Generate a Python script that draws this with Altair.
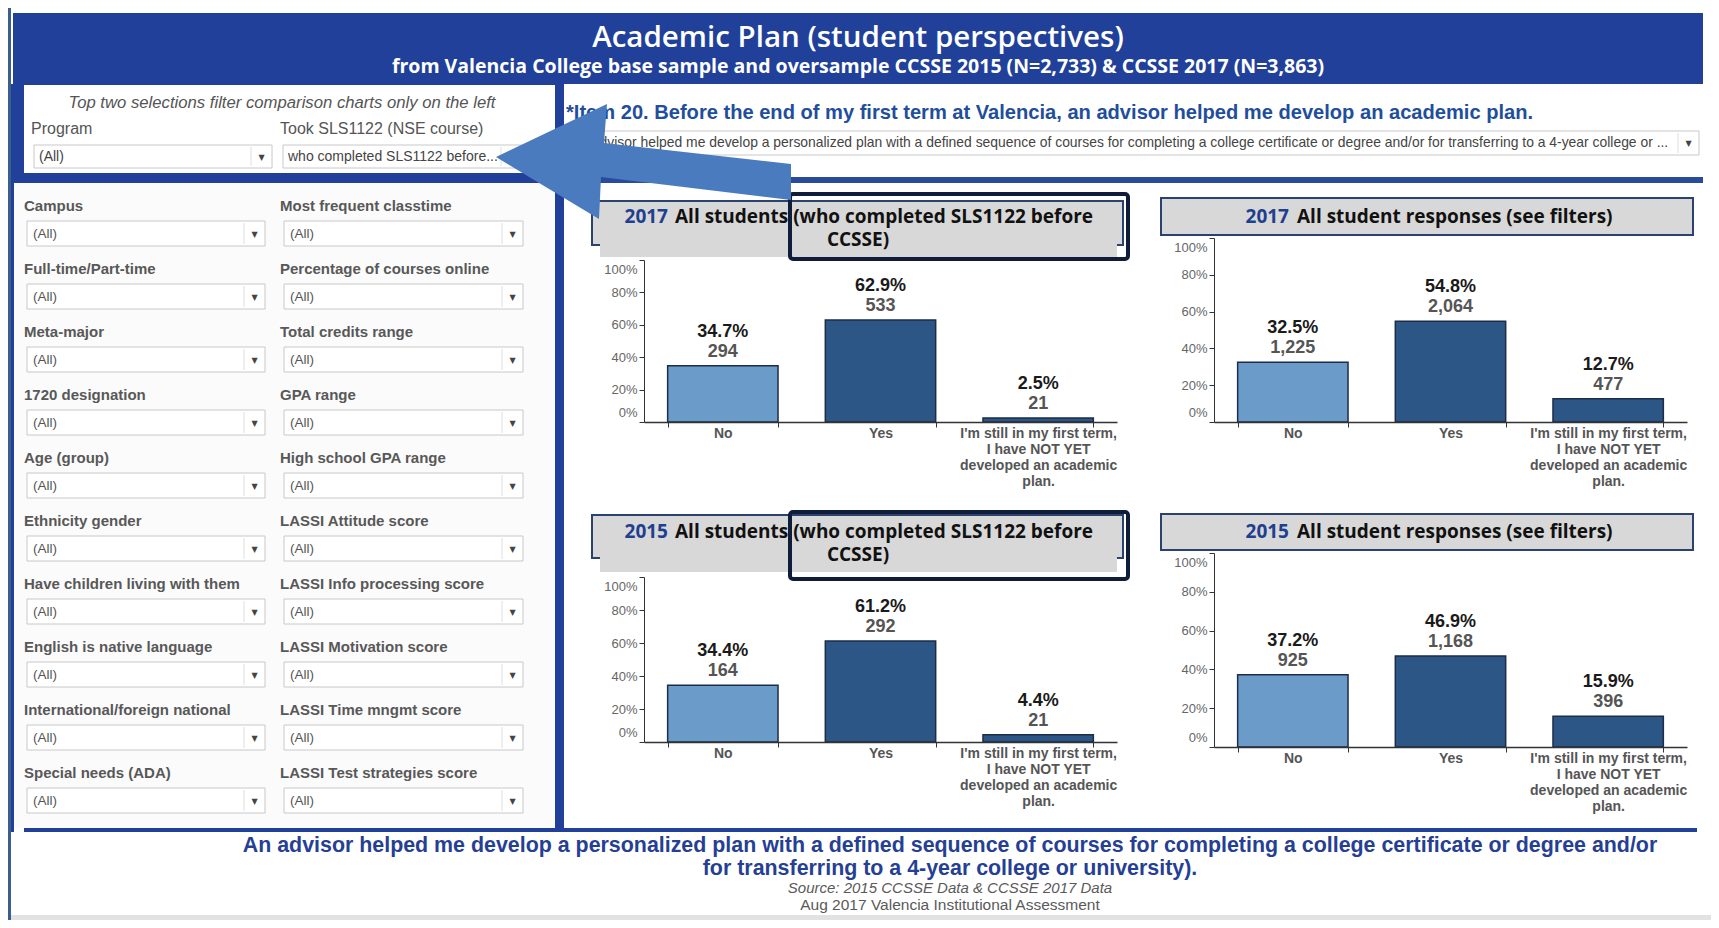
import altair as alt
import pandas as pd

# ---------------- chart values ----------------
categories = ["No", "Yes",
              "I'm still in my first term,\nI have NOT YET\ndeveloped an academic\nplan."]
bar_colors = ["#6a9bc9", "#2c5686", "#2c5686"]

pct_2017_sls = [0.347, 0.629, 0.025]
n_2017_sls = [294, 533, 21]
pct_2017_all = [0.325, 0.548, 0.127]
n_2017_all = [1225, 2064, 477]
pct_2015_sls = [0.344, 0.612, 0.044]
n_2015_sls = [164, 292, 21]
pct_2015_all = [0.372, 0.469, 0.159]
n_2015_all = [925, 1168, 396]

y_ticks = [0, 0.2, 0.4, 0.6, 0.8, 1.0]

filters_left = ["Campus", "Full-time/Part-time", "Meta-major", "1720 designation",
                "Age (group)", "Ethnicity gender", "Have children living with them",
                "English is native language", "International/foreign national",
                "Special needs (ADA)"]
filters_right = ["Most frequent classtime", "Percentage of courses online",
                 "Total credits range", "GPA range", "High school GPA range",
                 "LASSI Attitude score", "LASSI Info processing score",
                 "LASSI Motivation score", "LASSI Time mngmt score",
                 "LASSI Test strategies score"]

title_main = "Academic Plan (student perspectives)"
title_sub = ("from Valencia College base sample and oversample CCSSE 2015 (N=2,733) "
             "& CCSSE 2017 (N=3,863)")
note_text = "Top two selections filter comparison charts only on the left"
item_text = ("*Item 20. Before the end of my first term at Valencia, an advisor helped "
             "me develop an academic plan.")
item_choice = ("An advisor helped me develop a personalized plan with a defined sequence of "
               "courses for completing a college certificate or degree and/or for "
               "transferring to a 4-year college or ...")
footer_1 = ("An advisor helped me develop a personalized plan with a defined sequence of "
            "courses for completing a college certificate or degree and/or")
footer_2 = "for transferring to a 4-year college or university)."
footer_src = "Source: 2015 CCSSE Data & CCSSE 2017 Data"
footer_org = "Aug 2017 Valencia Institutional Assessment"

# ---------------- layout helpers (page pixel coordinates) ----------------
W, H, M = 1703, 912, 8
SANS = "Liberation Sans"
TITLE_FONT = "Open Sans"
BLUE = "#21409a"


def sx():
    return alt.Scale(domain=[M, M + W], range=[0, W], nice=False, zero=False)


def sy():
    return alt.Scale(domain=[M, M + H], range=[0, H], nice=False, zero=False)


def rect_layer(rows, **kw):
    df = pd.DataFrame(rows, columns=["x", "x2", "y", "y2", "c"])
    return alt.Chart(df).mark_rect(**kw).encode(
        x=alt.X("x:Q", scale=sx(), axis=None), x2="x2:Q",
        y=alt.Y("y:Q", scale=sy(), axis=None), y2="y2:Q",
        fill=alt.Fill("c:N", scale=None))


def frame_layer(rows, **kw):
    df = pd.DataFrame(rows, columns=["x", "x2", "y", "y2"])
    return alt.Chart(df).mark_rect(**kw).encode(
        x=alt.X("x:Q", scale=sx(), axis=None), x2="x2:Q",
        y=alt.Y("y:Q", scale=sy(), axis=None), y2="y2:Q")


def text_layer(rows, **kw):
    df = pd.DataFrame(rows, columns=["x", "y", "t"])
    return alt.Chart(df).mark_text(**kw).encode(
        x=alt.X("x:Q", scale=sx(), axis=None),
        y=alt.Y("y:Q", scale=sy(), axis=None),
        text="t:N")


def vrule_layer(rows, **kw):
    df = pd.DataFrame(rows, columns=["x", "y", "y2"])
    return alt.Chart(df).mark_rule(**kw).encode(
        x=alt.X("x:Q", scale=sx(), axis=None),
        y=alt.Y("y:Q", scale=sy(), axis=None), y2="y2:Q")


layers = []

# background / frame
layers.append(rect_layer([
    (0, 1719, 0, 928, "#3b5e8c"),
    (11, 1712, 3, 922, "#ffffff"),
    (11, 1712, 915, 922, "#e2e2e2"),
    (13, 1703, 13, 84, BLUE),
    (11, 564, 84, 183, BLUE),
    (11, 14, 183, 832, BLUE),
    (24, 555, 85, 173, "#ffffff"),
    (14, 555, 183, 828, "#fbfbfb"),
    (555, 564, 84, 832, BLUE),
    (564, 1703, 177, 183, "#2a4b9c"),
    (24, 1697, 828, 832, BLUE),
]))

# dropdown boxes
dd_small = []   # (x1, x2, y1, y2, text)
for i in range(len(filters_left)):
    y1 = 221 + 63 * i
    dd_small.append((27, 265, y1, y1 + 25, "(All)"))
    dd_small.append((284, 523, y1, y1 + 25, "(All)"))
dd_top = [(34, 272, 145, 168, "(All)"),
          (283, 522, 145, 168, "who completed SLS1122 before...")]
dd_item = [(566, 1699, 131, 155, item_choice)]
all_dd = dd_small + dd_top + dd_item

layers.append(frame_layer([(a, b, c, d) for a, b, c, d, _ in all_dd],
                          fill="#ffffff", stroke="#c8c8c8", strokeWidth=1))
layers.append(vrule_layer([(b - 21, c + 2, d - 2) for a, b, c, d, _ in all_dd],
                          color="#dedede", strokeWidth=1))
layers.append(text_layer([(b - 10.5, (c + d) / 2 + 1, "\u25bc") for a, b, c, d, _ in all_dd],
                         font="DejaVu Sans", fontSize=8, color="#444444"))
layers.append(text_layer([(a + 6, (c + d) / 2, t) for a, b, c, d, t in dd_small],
                         align="left", font=SANS, fontSize=13.5, color="#555555"))
layers.append(text_layer([(a + 5, (c + d) / 2, t) for a, b, c, d, t in dd_top],
                         align="left", font=SANS, fontSize=14, color="#444444"))
layers.append(text_layer([(a + 5, (c + d) / 2, t) for a, b, c, d, t in dd_item],
                         align="left", font=SANS, fontSize=13.9, color="#444444", limit=1108))

# filter labels
lab_rows = []
for i, (l, r) in enumerate(zip(filters_left, filters_right)):
    lab_rows.append((24, 206 + 63 * i, l))
    lab_rows.append((280, 206 + 63 * i, r))
layers.append(text_layer(lab_rows, align="left", font=SANS, fontSize=15,
                         fontWeight="bold", color="#585858"))
layers.append(text_layer([(31, 129, "Program"), (280, 129, "Took SLS1122 (NSE course)")],
                         align="left", font=SANS, fontSize=16, color="#555555"))
layers.append(text_layer([(282, 103, note_text)], font=SANS, fontSize=16.7,
                         fontStyle="italic", color="#555555"))
layers.append(text_layer([(566, 113, item_text)], align="left", font=SANS, fontSize=20.1,
                         fontWeight="bold", color="#1f4e9c"))

# header
layers.append(text_layer([(858, 38, title_main)], font=TITLE_FONT, fontSize=29.5,
                         fontWeight=600, color="#ffffff"))
layers.append(text_layer([(858, 67, title_sub)], font=TITLE_FONT, fontSize=19.5,
                         fontWeight="bold", color="#ffffff"))

# chart title boxes
layers.append(frame_layer([(592, 1123, 201, 245), (592, 1123, 515, 558),
                           (1161, 1693, 198, 235), (1161, 1693, 514, 550)],
                          fill="#d8d8d8", stroke="#2b4170", strokeWidth=2))
layers.append(frame_layer([(600, 1117, 203, 257), (600, 1117, 517, 572)],
                          fill="#d8d8d8"))

title_kw = dict(font=TITLE_FONT, fontSize=19, fontWeight="bold")
layers.append(text_layer([
    (675, 217, "All students (who completed SLS1122 before"),
    (675, 532, "All students (who completed SLS1122 before"),
    (1297, 217, "All student responses (see filters)"),
    (1297, 532, "All student responses (see filters)"),
], align="left", color="#111111", **title_kw))
layers.append(text_layer([(668, 217, "2017"), (668, 532, "2015"),
                          (1289, 217, "2017"), (1289, 532, "2015")],
                         align="right", color="#1f3f8f", **title_kw))
layers.append(text_layer([(858, 240, "CCSSE)"), (858, 555, "CCSSE)")],
                         color="#111111", **title_kw))


# ---------------- bar panels ----------------
def panel(pcts, counts, x0, x1, y0, y1):
    df = pd.DataFrame({"cat": categories, "pct": pcts, "n": counts})
    xsc = alt.Scale(domain=categories, range=[x0 - M, x1 - M],
                    paddingInner=0.3, paddingOuter=0.15)
    ysc = alt.Scale(domain=[0, 1], range=[y0 - M, y1 - M], nice=False, zero=True)
    xax = alt.Axis(orient="bottom", offset=(y0 - M) - H, title=None, labelAngle=0,
                   labelExpr="split(datum.label, '\\n')", labelFont=SANS,
                   labelFontSize=14, labelFontWeight="bold", labelColor="#555555",
                   labelLineHeight=16, labelOverlap=False, labelLimit=400,
                   tickBand="extent", tickSize=5, tickColor="#333333",
                   domainColor="#333333", domainWidth=1.5, labelPadding=-1,
                   grid=False, zindex=1)
    yax = alt.Axis(orient="left", offset=-(x0 - M), title=None, values=y_ticks,
                   format=".0%", labelFlush=True, labelFlushOffset=-3, labelFont=SANS,
                   labelFontSize=13, labelColor="#666666", tickSize=5,
                   tickColor="#333333", domainColor="#333333", labelPadding=2,
                   grid=False, zindex=1)
    bars = alt.Chart(df).mark_bar(stroke="#1d2c47", strokeWidth=1.5).encode(
        x=alt.X("cat:N", scale=xsc, axis=xax, sort=categories),
        y=alt.Y("pct:Q", scale=ysc, axis=yax),
        color=alt.Color("cat:N", scale=alt.Scale(domain=categories, range=bar_colors),
                        legend=None))
    pct_lbl = alt.Chart(df).mark_text(dy=-34, font=SANS, fontSize=18, fontWeight="bold",
                                      color="#1a1a1a").encode(
        x=alt.X("cat:N", scale=xsc, axis=None, sort=categories),
        y=alt.Y("pct:Q", scale=ysc, axis=None),
        text=alt.Text("pct:Q", format=".1%"))
    n_lbl = alt.Chart(df).mark_text(dy=-14, font=SANS, fontSize=18, fontWeight="bold",
                                    color="#555555").encode(
        x=alt.X("cat:N", scale=xsc, axis=None, sort=categories),
        y=alt.Y("pct:Q", scale=ysc, axis=None),
        text=alt.Text("n:Q", format=","))
    return [bars, pct_lbl, n_lbl]


layers += panel(pct_2017_sls, n_2017_sls, 644, 1117, 422, 260)
layers += panel(pct_2017_all, n_2017_all, 1214, 1687, 422, 238)
layers += panel(pct_2015_sls, n_2015_sls, 644, 1117, 742, 577)
layers += panel(pct_2015_all, n_2015_all, 1214, 1687, 747, 553)

# highlight boxes
layers.append(frame_layer([(790, 1128, 194, 259), (790, 1128, 512, 579)],
                          fillOpacity=0, stroke="#0f1d3a", strokeWidth=4, cornerRadius=3))

# arrow
arrow_pts = [(496, 157), (607, 104), (604, 143), (791, 164), (791, 200),
             (601, 177), (599, 219)]
axs = [p[0] for p in arrow_pts]
ays = [p[1] for p in arrow_pts]
acx, acy = (min(axs) + max(axs)) / 2, (min(ays) + max(ays)) / 2
aR = max(max(axs) - min(axs), max(ays) - min(ays)) / 2
apath = "M" + " L".join(f"{(x - acx) / aR:.4f},{(y - acy) / aR:.4f}" for x, y in arrow_pts) + " Z"
layers.append(alt.Chart(pd.DataFrame({"x": [acx], "y": [acy]})).mark_point(
    shape=apath, size=(2 * aR) ** 2, filled=True, color="#4a7bbf", opacity=1,
    strokeWidth=0).encode(
    x=alt.X("x:Q", scale=sx(), axis=None), y=alt.Y("y:Q", scale=sy(), axis=None)))

# footer
layers.append(text_layer([(950, 846, footer_1), (950, 869, footer_2)], font=SANS,
                         fontSize=21.4, fontWeight="bold", color="#253f94"))
layers.append(text_layer([(950, 888, footer_src)], font=SANS, fontSize=15,
                         fontStyle="italic", color="#5a5a5a"))
layers.append(text_layer([(950, 905, footer_org)], font=SANS, fontSize=15.5,
                         color="#5a5a5a"))

chart = alt.layer(*layers).resolve_scale(
    x="independent", y="independent", color="independent"
).resolve_axis(x="independent", y="independent").properties(
    width=W, height=H, padding=0, autosize=alt.AutoSizeParams(type="none")
).configure_view(stroke=None).configure(background="#ffffff")

chart.save("out.html", embed_options={"renderer": "svg", "actions": False})
